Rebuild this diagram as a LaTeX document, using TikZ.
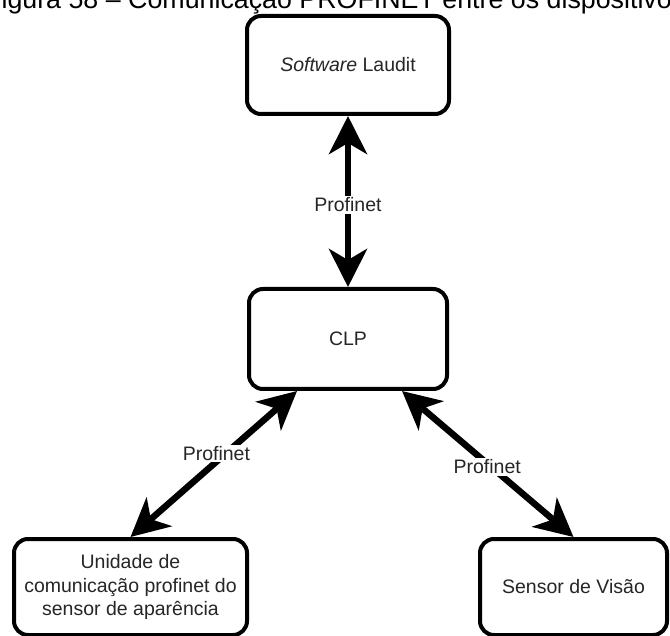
\documentclass[tikz,border=0pt]{standalone}
\usepackage{fontspec}
\setmainfont{Liberation Sans}
\usetikzlibrary{arrows.meta,calc}
\begin{document}
\begin{tikzpicture}[x=1pt,y=-1pt,
  box/.style={draw=black, line width=4pt, rounded corners=14pt, fill=white,
    inner sep=0pt, align=center, text=black!85,
    font=\fontsize{19.5}{23.5}\selectfont},
  link/.style={line width=6.5pt, {Stealth[length=38pt,width=38pt,inset=11pt]}-{Stealth[length=38pt,width=38pt,inset=11pt]}},
  tag/.style={fill=white, inner sep=1.5pt, text=black!85,
    font=\fontsize{19.5}{23.5}\selectfont}]
\useasboundingbox (0,0) rectangle (670,636);
\clip (0,0) rectangle (670,636);

% caption line, running past the top edge
\node[anchor=base west, inner sep=0pt, font=\fontsize{26.8}{30}\selectfont]
  (cap) at (-15,9) {Figura 58 – Comunicação PROFINET entre os dispositivos};

% devices
\node[box, minimum width=202pt, minimum height=98pt] (sw) at (348,65) {\textit{Software} Laudit};
\node[box, minimum width=198pt, minimum height=100pt] (clp) at (348,339) {CLP};
\node[box, minimum width=233pt, minimum height=96pt] (unit) at (130.5,587)
  {Unidade de\\comunicação profinet do\\sensor de aparência};
\node[box, minimum width=187pt, minimum height=96pt] (vis) at (573.5,587) {Sensor de Visão};

% Profinet links
\draw[link] (clp.north) -- node[tag, pos=0.48] (t1) {Profinet} (sw.south);
\draw[link] ($(clp.south west)+(50,0)$) -- node[tag, pos=0.43, xshift=-9pt] (t2) {Profinet} (unit.north);
\draw[link] ($(clp.south east)+(-47,0)$) -- node[tag, pos=0.52, xshift=-4pt] (t3) {Profinet} (vis.north);
\end{tikzpicture}
\end{document}
